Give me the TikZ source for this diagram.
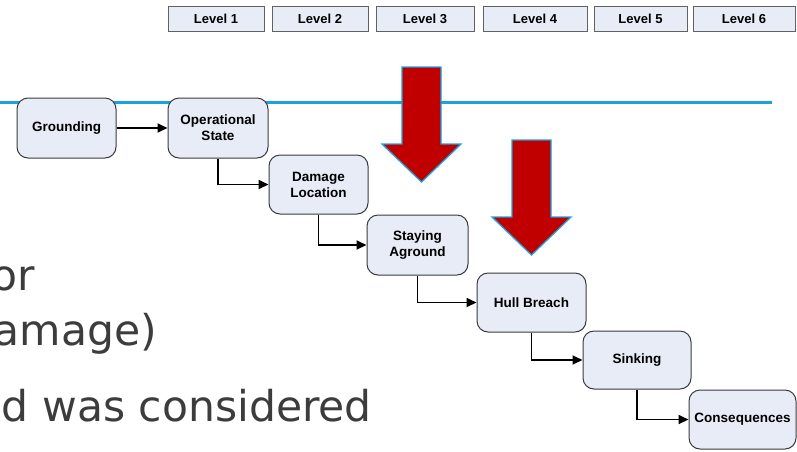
\documentclass[tikz,border=0pt]{standalone}
\usepackage{fontspec}
\setmainfont{Liberation Sans}
\newfontfamily\bodyfont{DejaVu Sans}
\usetikzlibrary{arrows.meta}
\definecolor{boxfill}{HTML}{E7ECF6}
\definecolor{boxline}{HTML}{3A3A3A}
\definecolor{lineblue}{HTML}{1CA3DE}
\definecolor{arrred}{HTML}{C00000}
\definecolor{txtgray}{HTML}{3C3C3C}
\begin{document}
\begin{tikzpicture}[x=1pt,y=-1pt,
 stage/.style={draw=boxline, line width=1pt, fill=boxfill, rounded corners=11pt,
   font=\fontsize{13.5}{16}\selectfont\bfseries, align=center, inner sep=0pt},
 lvl/.style={draw=boxline!80, line width=0.9pt, fill=boxfill,
   font=\fontsize{13}{15}\selectfont\bfseries, inner sep=0pt, minimum height=25pt},
 conn/.style={line width=1.8pt, -{Triangle[length=10pt,width=9pt]}},
 bigarrow/.style={fill=arrred, draw=lineblue, line width=1.3pt, line join=miter},
 body/.style={font=\bodyfont\fontsize{42.5}{50}\selectfont, text=txtgray, inner sep=0pt, anchor=base east}
]
\useasboundingbox (0,0) rectangle (797,451);
\clip (0,0) rectangle (797,451);

% level header
\node[lvl, minimum width=96pt]  (L1) at (216,18.5) {Level 1};
\node[lvl, minimum width=96pt]  (L2) at (320,18.5) {Level 2};
\node[lvl, minimum width=98pt]  (L3) at (425,18.5) {Level 3};
\node[lvl, minimum width=104pt] (L4) at (535,18.5) {Level 4};
\node[lvl, minimum width=93pt]  (L5) at (640.5,18.5) {Level 5};
\node[lvl, minimum width=102pt] (L6) at (744,18.5) {Level 6};

% blue line
\coordinate (bl0) at (0,102);
\coordinate (bl1) at (772,102);
\draw[lineblue, line width=3pt] (bl0) -- (bl1);

% background text
\node[body] (t1) at (35,290) {or};
\node[body] (t2) at (157,345) {amage)};
\node[body] (t3) at (372,421) {d was considered};

% stages
\node[stage, minimum width=99pt,  minimum height=60pt] (g)  at (66.5,128)   {Grounding};
\node[stage, minimum width=100pt, minimum height=60pt] (op) at (218,128)    {Operational\\State};
\node[stage, minimum width=99pt,  minimum height=59pt] (dl) at (318.5,184.5) {Damage\\Location};
\node[stage, minimum width=101pt, minimum height=60pt] (sa) at (417.5,245)  {Staying\\Aground};
\node[stage, minimum width=109pt, minimum height=59pt] (hb) at (531.5,302.5) {Hull Breach};
\node[stage, minimum width=108pt, minimum height=58pt] (sk) at (637,360)    {Sinking};
\node[stage, minimum width=107pt, minimum height=59pt] (cq) at (742.5,419.5) {Consequences};

% connectors
\draw[conn] (g.east) -- (op.west);
\draw[conn] (op.south) |- (dl.west);
\draw[conn] (dl.south) |- (sa.west);
\draw[conn] (sa.south) |- (hb.west);
\draw[conn] (hb.south) |- (sk.west);
\draw[conn] (sk.south) |- (cq.west);

% red arrows
\draw[bigarrow] (402,67) -- (441,67) -- (441,144) -- (461,144) -- (421.5,182)
  -- (382,144) -- (402,144) -- cycle;
\draw[bigarrow] (512,140) -- (551,140) -- (551,217) -- (571,217) -- (531.5,255)
  -- (492,217) -- (512,217) -- cycle;
\end{tikzpicture}
\end{document}
